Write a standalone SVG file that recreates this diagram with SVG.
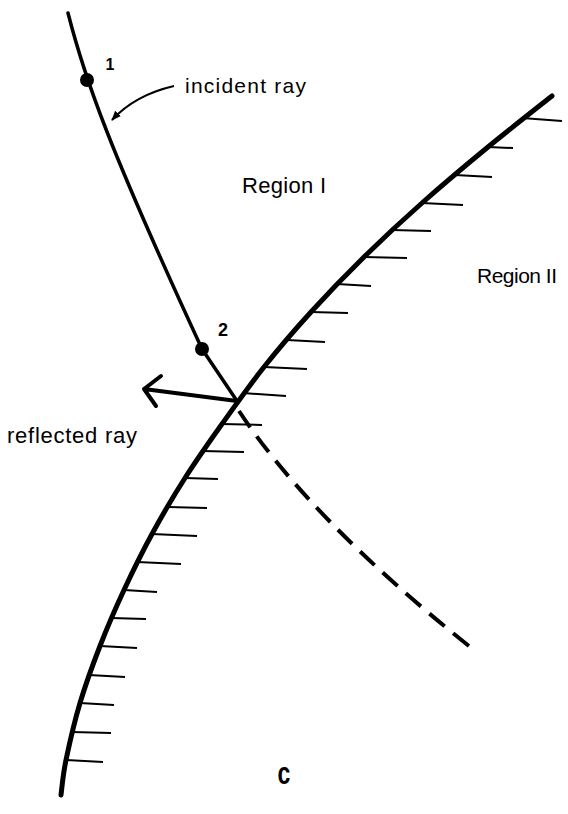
<svg xmlns="http://www.w3.org/2000/svg" width="568" height="814" viewBox="0 0 568 814">
<defs>
<style>
.lbl{font-family:"Liberation Sans",Arial,Helvetica,sans-serif;fill:#000}
.num{font-family:"Liberation Sans",Arial,sans-serif;font-weight:bold;fill:#000;text-anchor:middle}
.hatch line{stroke:#000;stroke-width:2;stroke-linecap:butt}
.ray{fill:none;stroke:#000;stroke-linecap:round;stroke-linejoin:round}
</style>
<marker id="ah" viewBox="0 0 10 8" refX="9" refY="4" markerWidth="10" markerHeight="8" markerUnits="userSpaceOnUse" orient="auto">
<path d="M0,0 L10,4 L0,8 z" fill="#000"/>
</marker>
</defs>
<rect width="568" height="814" fill="#fff"/>

<g id="boundary">
<path class="ray" stroke-width="5" d="M552,96 C541.3,104.5 509.7,129.2 488,147 C466.3,164.8 442.7,184.7 422,203 C401.3,221.3 382.5,238.8 364,257 C345.5,275.2 327.7,293.7 311,312 C294.3,330.3 278.8,348.3 264,367 C249.2,385.7 235.2,405.5 222,424 C208.8,442.5 196.7,459.7 185,478 C173.3,496.3 162.2,515.3 152,534 C141.8,552.7 132.7,571.3 124,590 C115.3,608.7 107.3,627.2 100,646 C92.7,664.8 85.7,684 80,703 C74.3,722 69.2,744.7 66,760 C62.8,775.3 61.8,789.2 61,795"/>
<g class="hatch">
<line x1="522" y1="118" x2="562" y2="121"/>
<line x1="488" y1="147" x2="513" y2="148"/>
<line x1="455" y1="175" x2="492" y2="177"/>
<line x1="422" y1="203" x2="463" y2="205"/>
<line x1="392" y1="230" x2="431" y2="231"/>
<line x1="364" y1="257" x2="407" y2="258"/>
<line x1="337" y1="284" x2="371" y2="286"/>
<line x1="311" y1="312" x2="348" y2="313"/>
<line x1="287" y1="340" x2="325" y2="342"/>
<line x1="264" y1="367" x2="307" y2="369"/>
<line x1="243" y1="393" x2="286" y2="396"/>
<line x1="222" y1="424" x2="262" y2="425"/>
<line x1="203" y1="451" x2="244" y2="452"/>
<line x1="185" y1="478" x2="218" y2="479"/>
<line x1="168" y1="507" x2="207" y2="508"/>
<line x1="152" y1="534" x2="197" y2="536"/>
<line x1="137" y1="562" x2="181" y2="564"/>
<line x1="124" y1="590" x2="157" y2="592"/>
<line x1="111" y1="618" x2="146" y2="619"/>
<line x1="100" y1="646" x2="137" y2="648"/>
<line x1="89" y1="675" x2="125" y2="677"/>
<line x1="80" y1="703" x2="114" y2="705"/>
<line x1="72" y1="732" x2="111" y2="733"/>
<line x1="66" y1="760" x2="103" y2="762"/>
</g>
</g>

<g id="connectors">
<path id="incident-ray" class="ray" stroke-width="3.5" d="M68,13 C85,80 110,150 202,349 L237,401"/>
<path id="reflected-ray" class="ray" stroke-width="4" d="M237,401 L144,389 M161,376 L144,389 L156,406"/>
<path id="transmitted-ray" fill="none" stroke="#000" stroke-width="4" stroke-dasharray="20 11" d="M239,411 Q311,520 469,646"/>
<path id="label-arrow" fill="none" stroke="#000" stroke-width="2" marker-end="url(#ah)" d="M174,86 Q135,95 112,120"/>
</g>

<g id="point-1">
<circle cx="87" cy="80" r="7" fill="#000"/>
<text class="num" x="110" y="70" font-size="16">1</text>
</g>
<g id="point-2">
<circle cx="202" cy="349" r="7" fill="#000"/>
<text class="num" x="223" y="336" font-size="18">2</text>
</g>

<g id="labels">
<text class="lbl" x="185" y="93" font-size="21" textLength="121" lengthAdjust="spacing">incident ray</text>
<text class="lbl" x="242" y="193" font-size="22" textLength="84" lengthAdjust="spacing">Region I</text>
<text class="lbl" x="477" y="283" font-size="21" textLength="80" lengthAdjust="spacing">Region II</text>
<text class="lbl" x="7" y="443" font-size="22" textLength="130" lengthAdjust="spacing">reflected ray</text>
<text class="num" x="0" y="0" font-size="32" transform="translate(284,784) scale(0.72,1)">c</text>
</g>
</svg>
